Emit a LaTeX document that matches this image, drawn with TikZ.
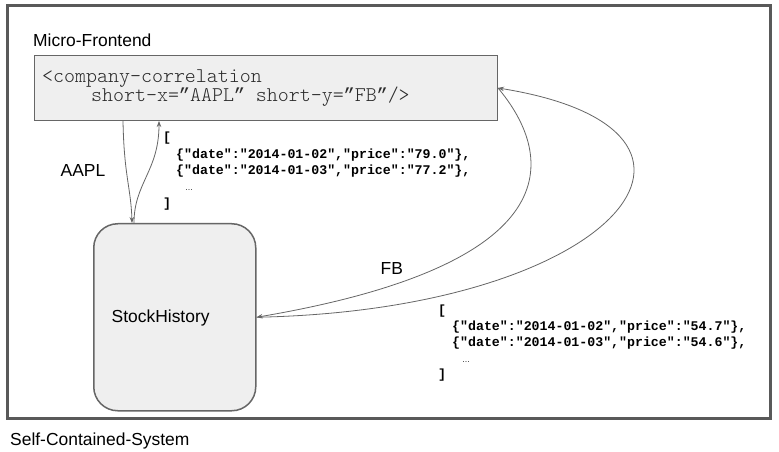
\documentclass[tikz,border=0pt]{standalone}
\usepackage{fontspec}
\setmainfont{Liberation Sans}
\setmonofont{Liberation Mono}
\newfontfamily\codefont{Latin Modern Mono Light}
\newfontfamily\quotefont{Liberation Mono}
\newcommand{\qmark}{\makebox[0.525em]{\quotefont\fontsize{18.9}{22}\selectfont ”}}
\usetikzlibrary{arrows.meta,calc}
\definecolor{boxfill}{HTML}{EFEFEF}
\definecolor{edgec}{HTML}{666666}
\definecolor{framec}{HTML}{595959}
\definecolor{codec}{HTML}{2A2A2A}
\begin{document}
\begin{tikzpicture}[x=1bp,y=-1bp,
  lbl/.style={font=\fontsize{17.5}{20}\selectfont, inner sep=0, anchor=base west},
  codetxt/.style={font=\codefont\fontsize{21}{24}\selectfont, text=codec, inner sep=0, anchor=base west},
  json/.style={font=\ttfamily\bfseries\fontsize{13.3}{16}\selectfont, inner sep=0, anchor=west},
  dots/.style={font=\fontsize{8}{9}\selectfont, inner sep=0, anchor=base west},
  arr/.style={draw=edgec, line width=0.8bp, -{Stealth[length=6bp,width=4.5bp]}},
  mfbox/.style={draw=edgec, fill=boxfill, line width=1bp, inner sep=0},
  shbox/.style={draw=edgec, fill=boxfill, line width=1.5bp, rounded corners=24bp, inner sep=0}]
\path[use as bounding box, fill=white] (0,0) rectangle (779,452);
\draw[framec, line width=3bp] (7,6) rectangle (770,418);

\node[lbl] (mftitle) at (33,47) {Micro-Frontend};
\node[mfbox, minimum width=463bp, minimum height=65bp, anchor=north west] (mf) at (34,55) {};
\node[codetxt] (code1) at (42,82.5) {<company-correlation};
\node[codetxt] (code2) at (91,101.5) {short-x=\qmark AAPL\qmark{} short-y=\qmark FB\qmark/>};

\node[shbox, minimum width=162bp, minimum height=187bp, anchor=north west] (sh) at (93,223) {};
\node[lbl] (shtxt) at (111.5,323) {StockHistory};

\node[lbl] (aapl) at (60.5,177) {AAPL};
\node[lbl] (fb) at (380.5,275) {FB};
\node[lbl] (scs) at (10,445) {Self-Contained-System};

\node[json] (j1a) at (163,138) {[};
\node[json] (j1b) at (176,155) {\{"date":"2014-01-02","price":"79.0"\},};
\node[json] (j1c) at (176,171) {\{"date":"2014-01-03","price":"77.2"\},};
\node[dots] (j1d) at (185,191) {…};
\node[json] (j1e) at (163,204) {]};

\node[json] (j2a) at (438,311) {[};
\node[json] (j2b) at (452,327) {\{"date":"2014-01-02","price":"54.7"\},};
\node[json] (j2c) at (452,343) {\{"date":"2014-01-03","price":"54.6"\},};
\node[dots] (j2d) at (462,363) {…};
\node[json] (j2e) at (438,375) {]};

\draw[arr] ([xshift=89bp]mf.south west) .. controls +(1,55) and +(-1,-35) .. ([xshift=39bp]sh.north west);
\draw[arr] ([xshift=41bp]sh.north west) .. controls +(0,-40) and +(0,50) .. ([xshift=125bp]mf.south west);
\draw[arr] (mf.east) .. controls (550,150) and (582,262) .. (sh.east);
\draw[arr] (sh.east) .. controls (620,310) and (760,130) .. (mf.east);
\end{tikzpicture}
\end{document}
